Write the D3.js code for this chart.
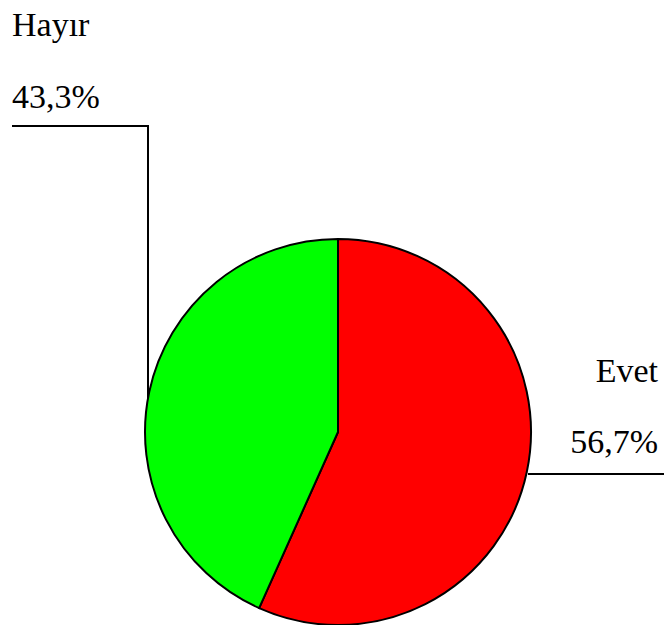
<!DOCTYPE html>
<html>
<head>
<meta charset="utf-8">
<script src="https://cdn.jsdelivr.net/npm/d3@7"></script>
<style>
  svg text { font-family: "Liberation Serif", "Times New Roman", Tinos, serif; }
</style>
</head>
<body style="margin:0; background:#fff">
<div id="chart"></div>
<script>
'use strict'

var width = 665;
var height = 625;
var categories = ['Evet', 'Hayır'];
var values = [56.7, 43.3];
var percentLabels = ['56,7%', '43,3%'];
var colors = ['#ff0000', '#00ff00'];

var cx = 338;
var cy = 432;
var radius = 193;
var fontFamily = '"Liberation Serif", "Times New Roman", Tinos, serif';

var svg = d3.select('#chart').append('svg')
  .attr('width', width)
  .attr('height', height)
  .attr('font-family', fontFamily);

var g = svg.append('g')
  .attr('transform', 'translate(' + cx + ',' + cy + ')');

//pie layout, clockwise from 12 o'clock, keep data order

var pie = d3.pie().sort(null).value(function(d){return d;});
var arc = d3.arc().innerRadius(0).outerRadius(radius);
var arcs = pie(values);

g.selectAll('path.slice')
  .data(arcs)
  .enter().append('path')
    .attr('class', 'slice')
    .attr('d', arc)
    .attr('fill', function(d, i){return colors[i];})
    .attr('stroke', '#000')
    .attr('stroke-width', 2)
    .attr('stroke-linejoin', 'round');

//point on the circle at a given x

function edgeY(x){
  var dx = x - cx;
  return cy - Math.sqrt(Math.max(0, radius*radius - dx*dx));
}

function addLabel(x, y, anchor, str){
  svg.append('text')
    .attr('x', x).attr('y', y)
    .attr('text-anchor', anchor)
    .attr('font-family', fontFamily)
    .style('font-family', fontFamily)
    .style('font-size', '34px')
    .style('fill', '#000')
    .text(str);
}

//Evet label on the right

addLabel(658, 382, 'end', categories[0]);
addLabel(658, 453, 'end', percentLabels[0]);
svg.append('line')
  .attr('x1', 528).attr('y1', 474).attr('x2', 664).attr('y2', 474)
  .attr('stroke', '#000').attr('stroke-width', 2);

//Hayır label on the top left

addLabel(12, 36, 'start', categories[1]);
addLabel(12, 108, 'start', percentLabels[1]);
var lx = 148;
svg.append('polyline')
  .attr('points', [[12, 126], [lx, 126], [lx, edgeY(lx)]].map(function(p){return p.join(',');}).join(' '))
  .attr('fill', 'none')
  .attr('stroke', '#000').attr('stroke-width', 2);
</script>
</body>
</html>
